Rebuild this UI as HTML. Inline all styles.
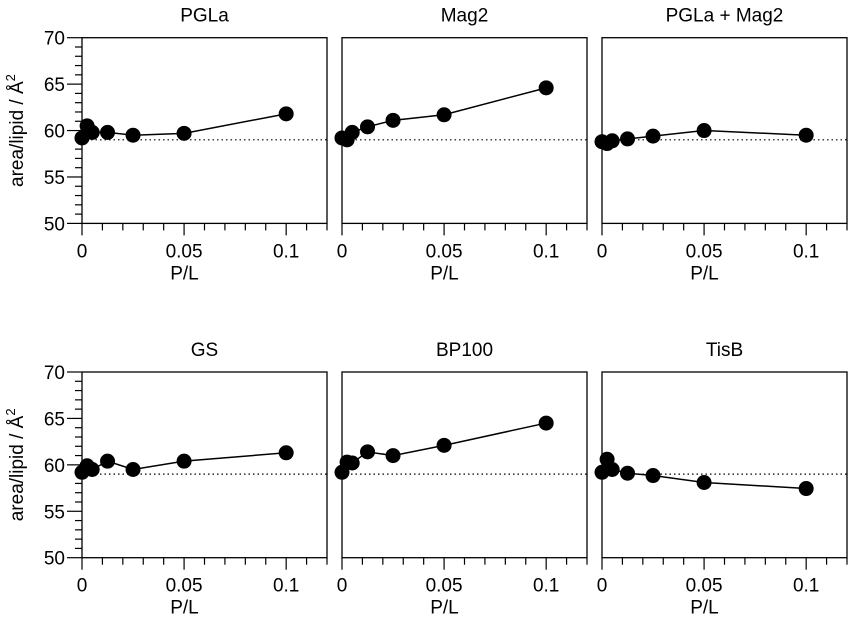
<!DOCTYPE html>
<html><head><meta charset="utf-8">
<style>
html,body{margin:0;padding:0;background:#fff;}
svg{display:block;font-family:"Liberation Sans",Arial,sans-serif;}
</style></head>
<body>
<svg id="chart" width="851" height="623" viewBox="0 0 851 623" xmlns="http://www.w3.org/2000/svg"></svg>
<script>
const titles = ["PGLa","Mag2","PGLa + Mag2","GS","BP100","TisB"];
const xValues = [0,0.0025,0.005,0.0125,0.025,0.05,0.1];
const seriesPGLa = [59.2,60.5,59.8,59.8,59.5,59.7,61.8];
const seriesMag2 = [59.2,59.0,59.8,60.4,61.1,61.7,64.6];
const seriesCombo = [58.8,58.6,58.9,59.1,59.4,60.0,59.5];
const seriesGS = [59.2,59.9,59.5,60.4,59.5,60.4,61.3];
const seriesBP100 = [59.2,60.3,60.2,61.4,61.0,62.1,64.5];
const seriesTisB = [59.2,60.6,59.5,59.1,58.85,58.1,57.45];
const refLine = 59;
const yTickLabels = [50,55,60,65,70];
const xTickLabels = ["0","0.05","0.1"];
const xTickLabelValues = [0,0.05,0.1];

const allSeries = [seriesPGLa,seriesMag2,seriesCombo,seriesGS,seriesBP100,seriesTisB];
const svg = document.getElementById('chart');
const NS = "http://www.w3.org/2000/svg";
function mk(tag, attrs, parent){
  const e = document.createElementNS(NS, tag);
  for (const k in attrs) e.setAttribute(k, attrs[k]);
  (parent||svg).appendChild(e);
  return e;
}
const lefts = [82,342,602];
const tops = [37.7,372];
const W = 245, H = 185.7;
const xMax = 0.12, yMin = 50, yMax = 70;
const FS = '19';

for (let i=0;i<6;i++){
  const col = i%3, row = Math.floor(i/3);
  const L = lefts[col], T = tops[row], B = T+H, R = L+W;
  const xs = v => L + v/xMax*W;
  const ys = v => B - (v-yMin)/(yMax-yMin)*H;
  const g = mk('g',{});
  
  

  const t = mk('text',{x:(L+R)/2,y:T-16,'text-anchor':'middle','font-size':FS},g);
  t.textContent = titles[i];
  
  

  const frame = mk('rect',{x:L,y:T,width:W,height:H,fill:'none',stroke:'#000','stroke-width':1.3},g);
  
  

  for (let k=0;k<=12;k++){
    const v = k*0.01, x = xs(v);
    const major = (k%5===0);
    const tk = mk('line',{x1:x,x2:x,y1:B,y2:B+(major?12:7),stroke:'#000','stroke-width':1.2},g);
    
    
  }
  xTickLabelValues.forEach((v,j)=>{
    const tl = mk('text',{x:xs(v),y:B+34,'text-anchor':'middle','font-size':FS},g);
    tl.textContent = xTickLabels[j];
    
    
  });
  const xt = mk('text',{x:(L+R)/2 - 20,y:B+56,'text-anchor':'middle','font-size':FS},g);
  xt.textContent = 'P/L';
  
  

  if (col===0){
    for (let v=yMin; v<=yMax; v++){
      const y = ys(v), major = (v%5===0);
      const tk = mk('line',{x1:L-(major?15:7),x2:L,y1:y,y2:y,stroke:'#000','stroke-width':1.2},g);
      
      
    }
    yTickLabels.forEach(v=>{
      const tl = mk('text',{x:L-17,y:ys(v)+7,'text-anchor':'end','font-size':FS},g);
      tl.textContent = v;
      
      
    });
    const yt = mk('text',{transform:`translate(23,${(T+B)/2}) rotate(-90)`,'text-anchor':'middle','font-size':FS},g);
    yt.innerHTML = 'area/lipid / Å<tspan dy="-8" font-size="13">2</tspan>';
    
    
  }

  const ref = mk('line',{x1:L,x2:R,y1:ys(refLine),y2:ys(refLine),stroke:'#000','stroke-width':1.2,'stroke-dasharray':'1.5,3'},g);
  
  

  const data = allSeries[i];
  const pts = xValues.map((x,j)=>xs(x)+','+ys(data[j])).join(' ');
  const pl = mk('polyline',{points:pts,fill:'none',stroke:'#000','stroke-width':1.5},g);
  
  
  xValues.forEach((x,j)=>{
    const c = mk('circle',{cx:xs(x),cy:ys(data[j]),r:7.5,fill:'#000'},g);
    
    
  });
}
</script>
</body></html>
